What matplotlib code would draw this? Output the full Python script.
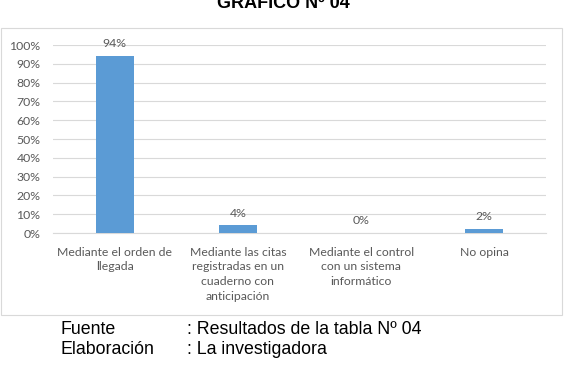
import matplotlib.pyplot as plt
from matplotlib.patches import Rectangle
from matplotlib.ticker import PercentFormatter

categorias = ['Mediante el orden de\nllegada',
              'Mediante las citas\nregistradas en un\ncuaderno con\nanticipación',
              'Mediante el control\ncon un sistema\ninformático',
              'No opina']
porcentajes = [94, 4, 0, 2]
etiquetas = ['94%', '4%', '0%', '2%']

gris = '#595959'
fig = plt.figure(figsize=(5.67, 3.69), dpi=100)

# marco del grafico
fig.patches.append(Rectangle((1 / 567, (369 - 315) / 369), 561 / 567, 287 / 369,
                             transform=fig.transFigure, fill=False,
                             edgecolor='#D9D9D9', linewidth=0.8))

ax = fig.add_axes([53 / 567, (369 - 233) / 369, 493 / 567, 188 / 369])
x = range(len(categorias))
ax.bar(x, porcentajes, width=0.31, color='#5B9BD5', zorder=3)
for i, (v, t) in enumerate(zip(porcentajes, etiquetas)):
    ax.annotate(t, (i, v), xytext=(0, 5), textcoords='offset points',
                ha='center', va='bottom', fontsize=8.8, color=gris, family='Lato')

ax.set_xlim(-0.5, 3.5)
ax.set_ylim(0, 100)
ax.set_yticks(range(0, 101, 10))
ax.yaxis.set_major_formatter(PercentFormatter(decimals=0))
ax.set_xticks(list(x))
ax.set_xticklabels(categorias, fontsize=8.8, color=gris, family='Lato', linespacing=1.4)
ax.tick_params(axis='y', labelsize=8.8, labelcolor=gris, length=0, pad=9)
ax.tick_params(axis='x', length=0, pad=10)
for lbl in ax.get_yticklabels():
    lbl.set_family('Lato')
ax.grid(axis='y', color='#D9D9D9', linewidth=0.8, zorder=0)
for s in ['top', 'right', 'left']:
    ax.spines[s].set_visible(False)
ax.spines['bottom'].set_color('#D9D9D9')

fig.text(283 / 567, 1 - 12 / 369, 'GRÁFICO Nº 04', ha='center', va='bottom',
         fontsize=13, fontweight='bold', family='Liberation Sans')

fig.text(60 / 567, 1 - 330 / 369, 'Fuente', va='center', fontsize=12.8, family='Liberation Sans')
fig.text(187 / 567, 1 - 330 / 369, ': Resultados de la tabla Nº 04', va='center',
         fontsize=12.8, family='Liberation Sans')
fig.text(60 / 567, 1 - 350 / 369, 'Elaboración', va='center', fontsize=12.8, family='Liberation Sans')
fig.text(187 / 567, 1 - 350 / 369, ': La investigadora', va='center',
         fontsize=12.8, family='Liberation Sans')

fig.savefig('out.png', dpi=100)
